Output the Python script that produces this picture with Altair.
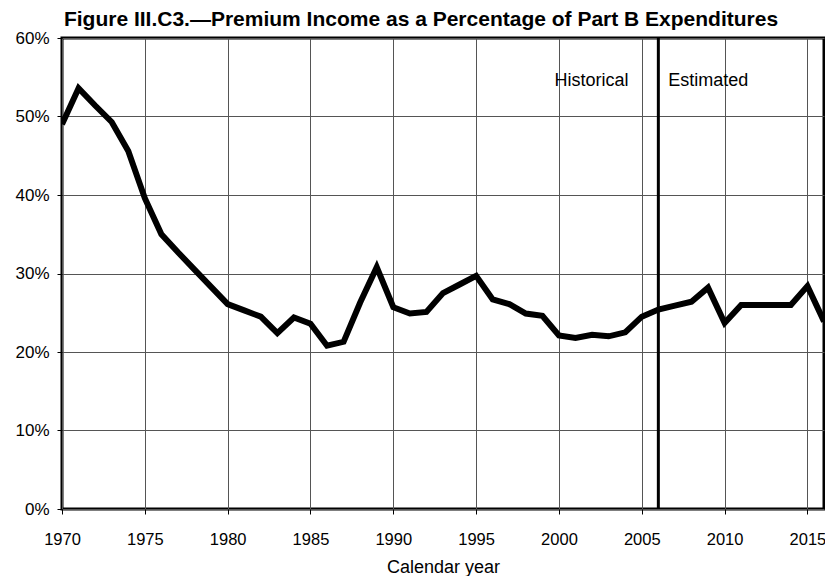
import altair as alt
import pandas as pd

years = [1970, 1971, 1972, 1973, 1974, 1975, 1976, 1977, 1978, 1979,
         1980, 1981, 1982, 1983, 1984, 1985, 1986, 1987, 1988, 1989,
         1990, 1991, 1992, 1993, 1994, 1995, 1996, 1997, 1998, 1999,
         2000, 2001, 2002, 2003, 2004, 2005, 2006, 2007, 2008, 2009,
         2010, 2011, 2012, 2013, 2014, 2015, 2016]
pct = [49.0, 53.6, 51.4, 49.3, 45.6, 39.6, 35.0, 32.7, 30.5, 28.3,
       26.1, 25.3, 24.5, 22.4, 24.4, 23.6, 20.8, 21.3, 26.3, 30.8,
       25.7, 24.9, 25.1, 27.5, 28.6, 29.7, 26.7, 26.1, 24.9, 24.6,
       22.1, 21.8, 22.2, 22.0, 22.5, 24.5, 25.4, 25.9, 26.4, 28.2,
       23.7, 26.0, 26.0, 26.0, 26.0, 28.4, 23.9]

x_ticks = [1970, 1975, 1980, 1985, 1990, 1995, 2000, 2005, 2010, 2015]
y_ticks = [0.0, 0.1, 0.2, 0.3, 0.4, 0.5, 0.6]

divider_year = [2006]
ann_text = ["Historical", "Estimated"]
ann_year = [2004.2, 2006.6]
ann_val = [0.539, 0.539]
ann_align = ["right", "left"]

FONT = "Liberation Sans"

df = pd.DataFrame({"year": years, "share": [v / 100 for v in pct]})
div_df = pd.DataFrame({"year": divider_year})
ann_df = pd.DataFrame({"label": ann_text, "year": ann_year, "share": ann_val, "align": ann_align})

xscale = alt.Scale(domain=[1970, 2016], nice=False, zero=False)
yscale = alt.Scale(domain=[0, 0.6], nice=False)

xaxis = alt.Axis(values=x_ticks, format="d", title="Calendar year", grid=True,
                 gridColor="#555", gridWidth=1, domain=False, tickColor="#000",
                 tickSize=5, labelPadding=17, labelFontSize=16.5, labelColor="#000",
                 labelFont=FONT, titleFont=FONT, titleFontSize=18, titleFontWeight="normal",
                 titleColor="#000", titlePadding=11, labelFlush=False)
yaxis = alt.Axis(values=y_ticks, format=".0%", title=None, grid=True,
                 gridColor="#555", gridWidth=1, domain=False, tickColor="#000",
                 tickSize=5, labelPadding=8, labelFontSize=17, labelColor="#000",
                 labelFont=FONT)

line = alt.Chart(df).mark_line(color="#000", strokeWidth=6, clip=True, strokeJoin="miter").encode(
    x=alt.X("year:Q", scale=xscale, axis=xaxis),
    y=alt.Y("share:Q", scale=yscale, axis=yaxis),
)

divider = alt.Chart(div_df).mark_rule(color="#000", strokeWidth=3).encode(
    x=alt.X("year:Q", scale=xscale)
)

hist = alt.Chart(ann_df[ann_df["align"] == "right"]).mark_text(
    align="right", baseline="alphabetic", font=FONT, fontSize=18, color="#000"
).encode(x=alt.X("year:Q", scale=xscale), y=alt.Y("share:Q", scale=yscale), text="label:N")

est = alt.Chart(ann_df[ann_df["align"] == "left"]).mark_text(
    align="left", baseline="alphabetic", font=FONT, fontSize=18, color="#000"
).encode(x=alt.X("year:Q", scale=xscale), y=alt.Y("share:Q", scale=yscale), text="label:N")

chart = alt.layer(divider, line, hist, est).properties(
    width=762,
    height=471,
    background="#ffffff",
    title=alt.TitleParams(
        "Figure III.C3.\u2014Premium Income as a Percentage of Part B Expenditures",
        font=FONT, fontSize=21, fontWeight="bold", color="#000",
        anchor="middle", dx=-22, offset=-1,
    ),
    autosize=alt.AutoSizeParams(type="none"),
    padding={"left": 54, "top": 30, "right": 1, "bottom": 67},
).configure_view(stroke="#000", strokeWidth=3)

chart.save("out.html", embed_options={"renderer": "svg", "actions": False})
